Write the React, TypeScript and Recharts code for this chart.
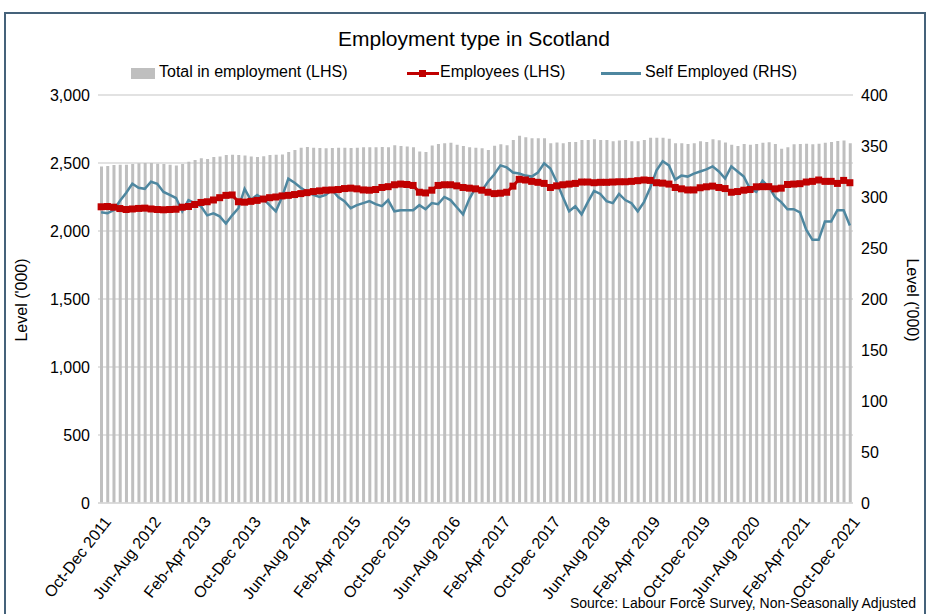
import React from 'react';
import { ComposedChart, Bar, Line, XAxis, YAxis, CartesianGrid } from 'recharts';

// rolling quarter labels, Oct-Dec 2011 .. Oct-Dec 2021
const MONTHS = ['Jan', 'Feb', 'Mar', 'Apr', 'May', 'Jun', 'Jul', 'Aug', 'Sep', 'Oct', 'Nov', 'Dec'];
const N_PERIODS = 121;
const periods: string[] = Array.from({ length: N_PERIODS }, (_, i) => {
    const m = 9 + i;
    return `${MONTHS[m % 12]}-${MONTHS[(m + 2) % 12]} ${2011 + Math.floor((m + 2) / 12)}`;
});

// Total in employment (LHS, '000)
const totalEmployment = [
    2475, 2478, 2485, 2487, 2488, 2492, 2498, 2500, 2500, 2495,
    2493, 2488, 2482, 2493, 2510, 2522, 2535, 2530, 2545, 2548,
    2558, 2560, 2558, 2555, 2548, 2545, 2550, 2558, 2560, 2562,
    2580, 2595, 2612, 2618, 2612, 2610, 2608, 2610, 2612, 2612,
    2610, 2612, 2615, 2615, 2615, 2618, 2615, 2630, 2625, 2622,
    2615, 2585, 2580, 2628, 2640, 2645, 2648, 2635, 2625, 2615,
    2612, 2608, 2596, 2627, 2637, 2630, 2669, 2701, 2690, 2682,
    2682, 2682, 2645, 2650, 2645, 2655, 2655, 2669, 2669, 2675,
    2670, 2670, 2660, 2665, 2670, 2660, 2660, 2670, 2686, 2686,
    2686, 2678, 2645, 2645, 2640, 2645, 2660, 2655, 2675, 2668,
    2650, 2635, 2625, 2640, 2635, 2640, 2648, 2652, 2640, 2605,
    2615, 2638, 2640, 2642, 2638, 2642, 2648, 2655, 2662, 2665,
    2645,
];

// Employees (LHS, '000)
const employees = [
    2178, 2180, 2175, 2165, 2158, 2162, 2166, 2168, 2162, 2158,
    2156, 2158, 2160, 2175, 2180, 2195, 2210, 2215, 2228, 2245,
    2262, 2265, 2215, 2212, 2218, 2225, 2235, 2245, 2250, 2258,
    2262, 2268, 2275, 2282, 2290, 2295, 2300, 2302, 2305, 2312,
    2315, 2310, 2302, 2300, 2305, 2320, 2326, 2340, 2345, 2342,
    2335, 2285, 2280, 2300, 2335, 2340, 2340, 2332, 2320, 2315,
    2310, 2300, 2285, 2275, 2278, 2285, 2330, 2380, 2375, 2365,
    2358, 2350, 2320, 2332, 2340, 2345, 2350, 2360, 2360, 2355,
    2358, 2358, 2360, 2362, 2362, 2365, 2370, 2375, 2372, 2355,
    2352, 2345, 2320, 2310, 2302, 2302, 2318, 2325, 2330, 2320,
    2312, 2285, 2290, 2300, 2305, 2325, 2326, 2326, 2310, 2315,
    2342, 2345, 2348, 2360, 2365, 2375, 2365, 2365, 2350, 2372,
    2355,
];

// Self employed (RHS, '000)
const selfEmployed = [
    285, 284, 287, 296, 304, 313, 309, 308, 315, 313,
    305, 302, 299, 286, 297, 294, 291, 282, 284, 281,
    274, 282, 289, 308, 297, 302, 298, 292, 286, 300,
    318, 314, 309, 305, 302, 300, 302, 307, 300, 296,
    289, 292, 294, 296, 293, 291, 297, 286, 287, 287,
    287, 292, 288, 294, 293, 300, 297, 290, 283, 298,
    309, 306, 315, 322, 331, 329, 324, 323, 321, 320,
    324, 333, 328, 315, 300, 286, 291, 283, 295, 306,
    303, 296, 294, 303, 297, 294, 286, 295, 309, 326,
    335, 331, 317, 321, 320, 323, 325, 327, 330, 325,
    318, 330, 325, 320, 308, 305, 316, 310, 300, 295,
    288, 288, 285, 268, 258, 258, 276, 276, 287, 287,
    272,
];

const leftTicks = [0, 500, 1000, 1500, 2000, 2500, 3000];
const rightTicks = [0, 50, 100, 150, 200, 250, 300, 350, 400];

const data = periods.map((p, i) => ({
    period: p,
    total: totalEmployment[i],
    employees: employees[i],
    self: selfEmployed[i],
}));

const FONT = '"Liberation Sans", Arial, sans-serif';
const RED = '#C00000';
const BLUE = '#4E87A0';
const GREY_BAR = '#BFBFBF';

const XTick = ({ x, y, payload }: any) => {
    const tx = x + 2;
    const ty = y + 4;
    return (
        <text x={tx} y={ty} transform={`rotate(-52 ${tx} ${ty})`} textAnchor="end"
            fontSize={16} fontFamily={FONT} fill="#000" dy="0.7em">
            {payload.value}
        </text>
    );
};

const SquareDot = (props: any) => {
    const { cx, cy, index } = props;
    if (cx == null || cy == null) return <g key={index} />;
    return <rect key={index} x={cx - 3.5} y={cy - 3.5} width={7} height={7} fill={RED} />;
};

const abs = (left: number, top: number, extra: React.CSSProperties = {}): React.CSSProperties => ({
    position: 'absolute', left, top, fontFamily: FONT, color: '#000', whiteSpace: 'nowrap', ...extra,
});

export default function App() {
    return (
        <div style={{ position: 'absolute', left: 0, top: 0, width: 928, height: 614, overflow: 'hidden', background: '#fff' }}>
            <div style={{ position: 'absolute', left: 4, top: 12, width: 918, height: 700, border: '2px solid #45627A' }} />

            <div style={abs(0, 27, { width: 948, textAlign: 'center', fontSize: 21 })}>Employment type in Scotland</div>

            {/* legend */}
            <div style={abs(131, 68, { width: 24, height: 11, background: GREY_BAR })} />
            <div style={abs(159, 63, { fontSize: 16 })}>Total in employment (LHS)</div>
            <div style={abs(407, 72, { width: 32, height: 3, background: RED })} />
            <div style={abs(419, 70, { width: 7, height: 7, background: RED })} />
            <div style={abs(440, 63, { fontSize: 16 })}>Employees (LHS)</div>
            <div style={abs(601, 72, { width: 40, height: 3, background: BLUE })} />
            <div style={abs(645, 63, { fontSize: 16 })}>Self Employed (RHS)</div>

            {/* axis titles */}
            <div style={abs(22, 300, { fontSize: 16, transform: 'translate(-50%, -50%) rotate(-90deg)' })}>Level ('000)</div>
            <div style={abs(912, 300, { fontSize: 16, transform: 'translate(-50%, -50%) rotate(90deg)' })}>Level ('000)</div>

            <div style={abs(0, 595, { width: 916, textAlign: 'right', fontSize: 14 })}>
                Source: Labour Force Survey, Non-Seasonally Adjusted
            </div>

            <div style={{ position: 'absolute', left: 0, top: 0 }}>
                <ComposedChart width={928} height={614} data={data}
                    margin={{ top: 95, right: 15, left: 38, bottom: 11 }} barCategoryGap={0}>
                    <CartesianGrid vertical={false} yAxisId="left" stroke="#D9D9D9" strokeWidth={1.5} />
                    <XAxis dataKey="period" interval={7} height={100} tickLine={false}
                        axisLine={{ stroke: '#D9D9D9', strokeWidth: 1.5 }} tick={<XTick />} />
                    <YAxis yAxisId="left" domain={[0, 3000]} ticks={leftTicks} width={60}
                        axisLine={false} tickLine={false}
                        tickFormatter={(v: number) => v.toLocaleString('en-GB')}
                        tick={{ fontSize: 16, fontFamily: FONT, fill: '#000' }} />
                    <YAxis yAxisId="right" orientation="right" domain={[0, 400]} ticks={rightTicks} width={60}
                        axisLine={false} tickLine={false}
                        tick={{ fontSize: 16, fontFamily: FONT, fill: '#000' }} />
                    <Bar yAxisId="left" dataKey="total" fill={GREY_BAR} barSize={3} isAnimationActive={false} />
                    <Line yAxisId="left" dataKey="employees" type="linear" stroke={RED} strokeWidth={3}
                        dot={SquareDot} isAnimationActive={false} />
                    <Line yAxisId="right" dataKey="self" type="linear" stroke={BLUE} strokeWidth={2.5}
                        dot={false} isAnimationActive={false} />
                </ComposedChart>
            </div>
        </div>
    );
}
